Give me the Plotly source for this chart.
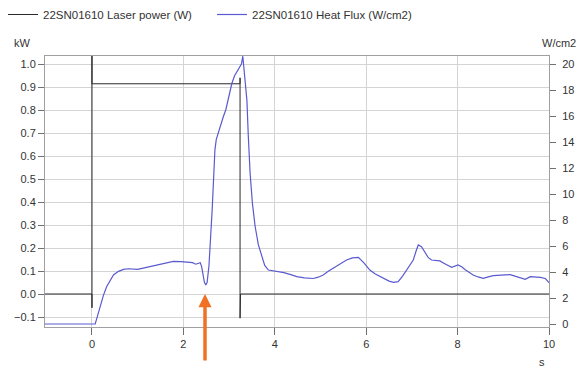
import plotly.graph_objects as go

# ---- data ----
laser_t = [-1.03, 0.0, 0.0, 0.0, 0.0, 3.24, 3.24, 3.24, 3.245, 3.245, 3.25, 10.0]
laser_kw = [0.0, 0.0, -0.06, 1.10, 0.914, 0.914, 0.94, -0.105, 0.126, -0.10, 0.0, 0.0]

flux_t = [-1.03, 0.0, 0.07, 0.12, 0.175, 0.25, 0.32, 0.40, 0.47, 0.58, 0.69, 0.80, 0.90, 1.00,
          1.12, 1.30, 1.49, 1.65, 1.78, 1.95, 2.07, 2.20, 2.27, 2.33, 2.37, 2.40, 2.43, 2.46,
          2.49, 2.52, 2.56, 2.60, 2.63, 2.66, 2.69, 2.72, 2.76, 2.82, 2.87, 2.93, 2.98, 3.02,
          3.06, 3.12, 3.17, 3.24, 3.27, 3.30, 3.33, 3.36, 3.39, 3.42, 3.46, 3.51, 3.57, 3.64,
          3.71, 3.78, 3.86, 3.95, 4.04, 4.20, 4.35, 4.48, 4.65, 4.84, 4.95, 5.06, 5.17, 5.28,
          5.42, 5.57, 5.70, 5.83, 5.95, 6.08, 6.20, 6.38, 6.50, 6.60, 6.70, 6.80, 6.88, 6.96,
          7.03, 7.09, 7.14, 7.21, 7.25, 7.29, 7.36, 7.43, 7.52, 7.61, 7.74, 7.87, 8.01, 8.09,
          8.16, 8.25, 8.34, 8.45, 8.56, 8.67, 8.78, 8.95, 9.15, 9.22, 9.29, 9.38, 9.48, 9.59,
          9.70, 9.81, 9.92, 10.0]
flux_w = [0.0, 0.0, 0.0, 0.6, 1.33, 2.2, 2.87, 3.4, 3.77, 4.05, 4.2, 4.25, 4.22, 4.2,
          4.3, 4.45, 4.62, 4.75, 4.82, 4.8, 4.77, 4.72, 4.6, 4.65, 4.72, 4.4, 3.8, 3.2,
          3.0, 3.2, 4.5, 6.5, 8.8, 11.1, 13.4, 14.2, 14.7, 15.3, 15.9, 16.5, 17.2, 17.9,
          18.5, 19.1, 19.4, 19.8, 20.0, 20.6, 19.5, 18.3, 17.2, 14.5, 11.6, 9.3, 7.5, 6.1,
          5.2, 4.5, 4.15, 4.1, 4.08, 3.95, 3.8, 3.64, 3.55, 3.5, 3.6, 3.77, 4.05, 4.28,
          4.6, 4.92, 5.08, 5.13, 4.7, 4.15, 3.85, 3.5, 3.3, 3.2, 3.26, 3.7, 4.15, 4.5,
          4.92, 5.6, 6.08, 5.95, 5.7, 5.49, 5.1, 4.92, 4.88, 4.85, 4.6, 4.36, 4.54, 4.4,
          4.2, 3.98, 3.77, 3.62, 3.51, 3.62, 3.72, 3.76, 3.8, 3.72, 3.64, 3.55, 3.44, 3.64,
          3.62, 3.59, 3.5, 3.18]

left_ticks = [-0.1, 0.0, 0.1, 0.2, 0.3, 0.4, 0.5, 0.6, 0.7, 0.8, 0.9, 1.0]
right_ticks = [0, 2, 4, 6, 8, 10, 12, 14, 16, 18, 20]
x_ticks = [0, 2, 4, 6, 8, 10]

FONT = "Liberation Sans, Arial, sans-serif"
W, H = 576, 369
L, R, T, B = 45, 27, 56, 42
pw, ph = W - L - R, H - T - B

def px_x(px):
    return (px - L) / pw

def px_y(py):
    return (H - B - py) / ph

fig = go.Figure()
fig.add_trace(go.Scatter(
    x=laser_t, y=laser_kw, mode="lines", name="22SN01610 Laser power (W)",
    line=dict(color="#2a2a2a", width=1), yaxis="y", legend="legend"))
fig.add_trace(go.Scatter(
    x=flux_t, y=flux_w, mode="lines", name="22SN01610 Heat Flux (W/cm2)",
    line=dict(color="#5a5acf", width=1.2), yaxis="y2", legend="legend2"))

def axis_common(ticklen=6):
    return dict(showline=True, linecolor="#a0a0a0", linewidth=1,
                ticks="outside", tickcolor="#707070", ticklen=ticklen, tickwidth=1,
                tickfont=dict(family=FONT, size=11, color="#333333"),
                zeroline=False, automargin=False)

def legend_at(xpx):
    return dict(orientation="h", xref="paper", yref="paper",
                x=px_x(xpx), y=px_y(0), xanchor="left", yanchor="top",
                font=dict(family=FONT, size=11.5, color="#333333"),
                bgcolor="rgba(0,0,0,0)")

fig.update_layout(
    width=W, height=H,
    margin=dict(l=L, r=R, t=T, b=B, autoexpand=False),
    paper_bgcolor="white", plot_bgcolor="white",
    font=dict(family=FONT, size=11, color="#333333"),
    showlegend=True,
    legend=legend_at(3),
    legend2=legend_at(212),
    xaxis=dict(range=[-1.028, 10.0], tickvals=x_ticks, mirror=True,
               showgrid=True, gridcolor="#d4d4d4", gridwidth=1, **axis_common(7)),
    yaxis=dict(range=[(294 - 327) / 230, (294 - 56) / 230], tickvals=left_ticks,
               tickformat=".1f", mirror=True,
               showgrid=True, gridcolor="#d4d4d4", gridwidth=1, **axis_common()),
    yaxis2=dict(range=[(324 - 327) / 13, (324 - 56) / 13], tickvals=right_ticks,
                overlaying="y", side="right", showgrid=False, ticklabelstandoff=4,
                **axis_common()),
    annotations=[
        dict(text="kW", xref="paper", yref="paper", x=px_x(12), y=px_y(43),
             xanchor="left", yanchor="middle", showarrow=False,
             font=dict(family=FONT, size=11, color="#333333")),
        dict(text="W/cm2", xref="paper", yref="paper", x=px_x(540), y=px_y(43),
             xanchor="left", yanchor="middle", showarrow=False,
             font=dict(family=FONT, size=11, color="#333333")),
        dict(text="s", xref="paper", yref="paper", x=px_x(542), y=px_y(362),
             xanchor="center", yanchor="middle", showarrow=False,
             font=dict(family=FONT, size=11, color="#333333")),
        dict(text="", xref="x", yref="paper", x=2.473, y=px_y(294),
             ax=0, ay=68, showarrow=True, arrowhead=2, arrowwidth=3.5,
             arrowsize=0.75, arrowcolor="#F07124"),
    ],
)

fig.write_html("out.html", config={"displayModeBar": False},
               post_script="document.body.style.margin='0';document.body.style.padding='0';")
